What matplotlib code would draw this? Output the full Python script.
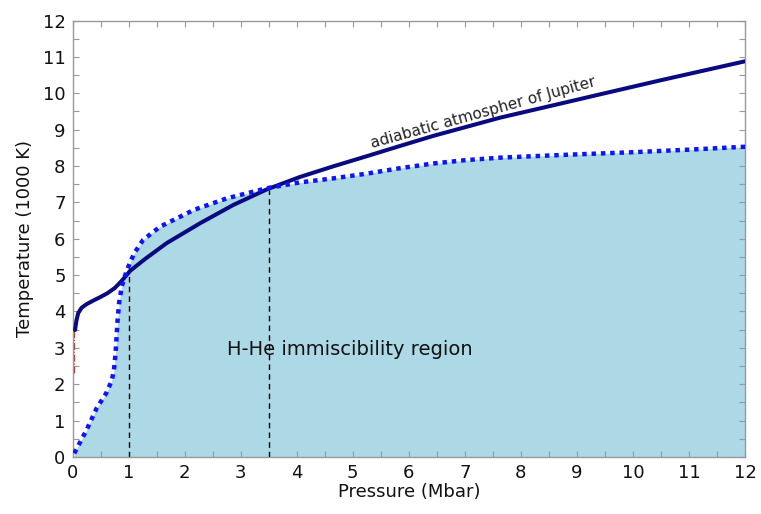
import matplotlib
matplotlib.use("Agg")
import matplotlib.pyplot as plt
from matplotlib.ticker import MultipleLocator

# ---- data ----
P_adiabat = [0.045, 0.07, 0.10, 0.16, 0.25, 0.37, 0.50, 0.62, 0.75, 0.87, 1.03, 1.30, 1.68,
             2.28, 2.87, 3.47, 4.06, 4.65, 5.25, 5.84, 6.44, 7.63, 8.80, 9.41, 10.50, 12.0]
T_adiabat = [3.49, 3.75, 3.95, 4.10, 4.20, 4.30, 4.40, 4.50, 4.64, 4.83, 5.12, 5.45, 5.88,
             6.43, 6.93, 7.36, 7.70, 7.99, 8.27, 8.55, 8.83, 9.33, 9.75, 9.97, 10.36, 10.88]

P_immisc = [0.03, 0.25, 0.43, 0.60, 0.70, 0.74, 0.77, 0.80, 0.83, 0.88, 0.97, 1.10, 1.26, 1.56,
            2.16, 2.75, 3.47, 4.06, 4.65, 5.25, 5.84, 6.44, 7.00, 7.63, 8.82, 10.0, 11.0, 12.0]
T_immisc = [0.10, 0.74, 1.34, 1.75, 2.10, 2.40, 2.90, 3.68, 4.23, 4.70, 5.14, 5.60, 5.97, 6.33,
            6.79, 7.11, 7.39, 7.55, 7.66, 7.79, 7.94, 8.07, 8.16, 8.23, 8.31, 8.38, 8.45, 8.53]

P_marks = [1.0, 3.5]
T_marks = [5.1, 7.35]

P_red = [0.03, 0.03]
T_red = [2.3, 3.5]

x_ticks = list(range(0, 13))
y_ticks = list(range(0, 13))

# ---- figure ----
fig = plt.figure(figsize=(7.61, 5.14), dpi=100)
ax = fig.add_axes([0.0953, 0.111, 0.8837, 0.849])

ax.fill_between(P_immisc, 0, T_immisc, color="#add8e6", lw=0, zorder=1)
ax.vlines(P_marks, 0, T_marks, colors="black", linestyles=(0, (4, 3)), lw=1.0, zorder=2)
ax.plot(P_red, T_red, color="#c03030", lw=0.8, ls="-.", zorder=2)
ax.plot(P_adiabat, T_adiabat, color="#0a0a80", lw=2.9, solid_capstyle="round",
        solid_joinstyle="round", zorder=3)
ax.plot(P_immisc, T_immisc, color="#0a14ff", lw=3.2, ls=(0, (1, 1.1)), zorder=4)

ax.text(4.95, 2.95, "H-He immiscibility region", fontsize=14, color="#111111",
        ha="center", va="center", zorder=5)
ax.text(7.32, 9.47, "adiabatic atmospher of Jupiter", fontsize=11, color="#222222",
        ha="center", va="center", rotation=15.5, rotation_mode="anchor", zorder=5)

ax.set_xlim(0, 12)
ax.set_ylim(0, 12)
ax.set_xticks(x_ticks)
ax.set_yticks(y_ticks)
ax.xaxis.set_minor_locator(MultipleLocator(0.5))
ax.yaxis.set_minor_locator(MultipleLocator(0.5))
ax.tick_params(which="both", direction="in", top=True, right=True, color="#999999",
               length=4, width=0.8)
ax.tick_params(which="major", labelsize=13, labelcolor="#111111", pad=5)
for s in ax.spines.values():
    s.set_color("#999999")
    s.set_linewidth(1.0)

ax.set_xlabel("Pressure (Mbar)", fontsize=13, color="#111111", labelpad=1)
ax.set_ylabel("Temperature (1000 K)", fontsize=13, color="#111111", labelpad=6)

fig.savefig("out.png", dpi=100)
